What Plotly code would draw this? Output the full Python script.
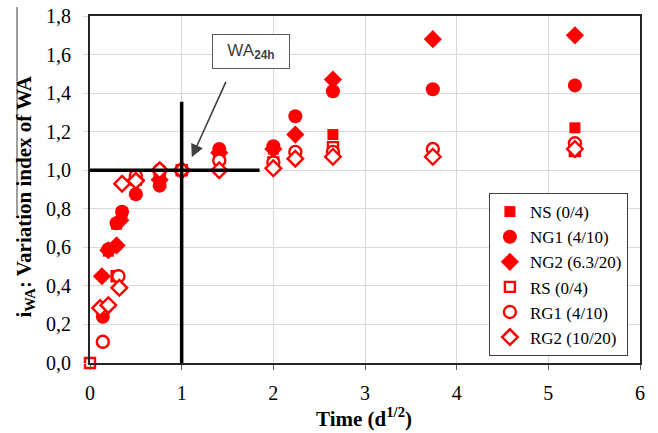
import plotly.graph_objects as go

# ---- data ----
ns_x = [0.14, 0.2, 0.29, 0.35, 0.5, 0.76, 1.0, 1.41, 2.0, 2.65, 5.29]
ns_y = [0.25, 0.58, 0.72, 0.78, 0.96, 0.95, 1.0, 1.07, 1.11, 1.185, 1.22]

ng1_x = [0.14, 0.2, 0.29, 0.35, 0.5, 0.76, 1.0, 1.41, 2.0, 2.24, 2.65, 3.74, 5.29]
ng1_y = [0.24, 0.59, 0.725, 0.785, 0.875, 0.92, 1.0, 1.11, 1.125, 1.28, 1.41, 1.42, 1.44]

ng2_x = [0.13, 0.2, 0.29, 0.33, 0.5, 0.76, 1.0, 1.41, 2.0, 2.24, 2.65, 3.74, 5.29]
ng2_y = [0.45, 0.585, 0.61, 0.74, 0.95, 0.95, 1.0, 1.09, 1.11, 1.185, 1.47, 1.68, 1.70]

rs_x = [0.0, 0.14, 0.29, 0.5, 0.76, 1.0, 1.41, 2.0, 2.65, 5.29]
rs_y = [0.0, 0.28, 0.45, 0.95, 0.99, 1.0, 1.06, 1.04, 1.12, 1.10]

rg1_x = [0.14, 0.31, 0.5, 0.76, 1.0, 1.41, 2.0, 2.24, 2.65, 3.74, 5.29]
rg1_y = [0.11, 0.45, 0.97, 1.0, 1.0, 1.05, 1.04, 1.095, 1.095, 1.11, 1.14]

rg2_x = [0.11, 0.2, 0.32, 0.35, 0.5, 0.76, 1.0, 1.41, 2.0, 2.24, 2.65, 3.74, 5.29]
rg2_y = [0.285, 0.30, 0.39, 0.93, 0.945, 1.0, 1.0, 1.0, 1.01, 1.06, 1.07, 1.07, 1.11]

x_ticks = [0, 1, 2, 3, 4, 5, 6]
y_ticks = [0.0, 0.2, 0.4, 0.6, 0.8, 1.0, 1.2, 1.4, 1.6, 1.8]
y_ticktext = ["0,0", "0,2", "0,4", "0,6", "0,8", "1,0", "1,2", "1,4", "1,6", "1,8"]

RED = "#ff0000"
SERIF = "Liberation Serif, Times New Roman, serif"

fig = go.Figure()

def filled(x, y, name, symbol, size):
    fig.add_trace(go.Scatter(x=x, y=y, name=name, mode="markers", cliponaxis=False,
                             marker=dict(symbol=symbol, size=size, color=RED,
                                         line=dict(width=0))))

def hollow(x, y, name, symbol, size):
    fig.add_trace(go.Scatter(x=x, y=y, name=name, mode="markers", cliponaxis=False,
                             marker=dict(symbol=symbol, size=size, color="white",
                                         line=dict(width=2.4, color=RED))))

filled(ns_x, ns_y, "NS (0/4)", "square", 11)
filled(ng1_x, ng1_y, "NG1 (4/10)", "circle", 14)
filled(ng2_x, ng2_y, "NG2 (6.3/20)", "diamond", 14)
hollow(rs_x, rs_y, "RS (0/4)", "square", 10)
hollow(rg1_x, rg1_y, "RG1 (4/10)", "circle", 12)
hollow(rg2_x, rg2_y, "RG2 (10/20)", "diamond", 12)

# reference lines at WA24h
fig.add_shape(type="line", x0=1, x1=1, y0=0, y1=1.355, xref="x", yref="y",
              line=dict(color="black", width=3.5))
fig.add_shape(type="line", x0=0, x1=1.85, y0=1.0, y1=1.0, xref="x", yref="y",
              line=dict(color="black", width=3.5))

# thin stray line at far left of the image
fig.add_shape(type="line", x0=-0.1327, x1=-0.1327, y0=0.4265, y1=1.026,
              xref="paper", yref="paper", line=dict(color="#7f7f7f", width=1.5))

# callout
fig.add_annotation(x=1.11, y=1.067, ax=1.49, ay=1.466, xref="x", yref="y",
                   axref="x", ayref="y", text="", showarrow=True,
                   arrowhead=2, arrowsize=1.6, arrowwidth=1.6, arrowcolor="#404040")
fig.add_annotation(x=1.761, y=1.615, xref="x", yref="y",
                   text="WA<sub><b>24h</b></sub>",
                   showarrow=False, xanchor="center", yanchor="middle",
                   font=dict(family="Liberation Sans, Arial", size=17, color="#404040"),
                   bordercolor="#595959", borderwidth=1, bgcolor="white",
                   width=74, height=31)

# axis titles as annotations (exact placement)
fig.add_annotation(x=0.498, y=-0.158, xref="paper", yref="paper",
                   text="<b>Time (d<sup>1/2</sup>)</b>", showarrow=False,
                   xanchor="center", yanchor="middle",
                   font=dict(family=SERIF, size=21, color="black"))
fig.add_annotation(x=-0.118, y=0.48, xref="paper", yref="paper",
                   text="<b>i<sub>WA</sub>: Variation index of WA</b>", showarrow=False,
                   textangle=-90, xanchor="center", yanchor="middle",
                   font=dict(family=SERIF, size=21, color="black"))

fig.update_layout(
    width=658, height=433,
    margin=dict(l=90, r=18, t=16, b=70, autoexpand=False),
    paper_bgcolor="white", plot_bgcolor="white",
    showlegend=True,
    legend=dict(x=0.978, y=0.02, xanchor="right", yanchor="bottom",
                bgcolor="white", bordercolor="#404040", borderwidth=1,
                font=dict(family=SERIF, size=17, color="black"),
                itemwidth=30, tracegroupgap=0),
    font=dict(family=SERIF, color="black"),
)

fig.update_xaxes(range=[0, 6], tickvals=x_ticks, ticktext=[str(v) for v in x_ticks],
                 automargin=False, ticklabeloverflow="allow",
                 showgrid=True, gridcolor="#d9d9d9", gridwidth=1,
                 showline=True, linecolor="#262626", linewidth=2, mirror=True,
                 ticks="outside", ticklen=5, tickcolor="#595959",
                 tickfont=dict(family=SERIF, size=20, color="black"),
                 ticklabelstandoff=6, zeroline=False)
fig.update_yaxes(range=[0, 1.8], tickvals=y_ticks, ticktext=y_ticktext,
                 automargin=False, ticklabeloverflow="allow",
                 showgrid=True, gridcolor="#d9d9d9", gridwidth=1,
                 showline=True, linecolor="#262626", linewidth=2, mirror=True,
                 ticks="outside", ticklen=5, tickcolor="#d9d9d9",
                 tickfont=dict(family=SERIF, size=20, color="black"),
                 ticklabelstandoff=8, zeroline=False)

# remove the browser's default 8px body margin so the figure fills the window
fig.write_html("out.html", config={"displayModeBar": False},
               post_script="document.body.style.margin='0';document.body.style.overflow='hidden';")
